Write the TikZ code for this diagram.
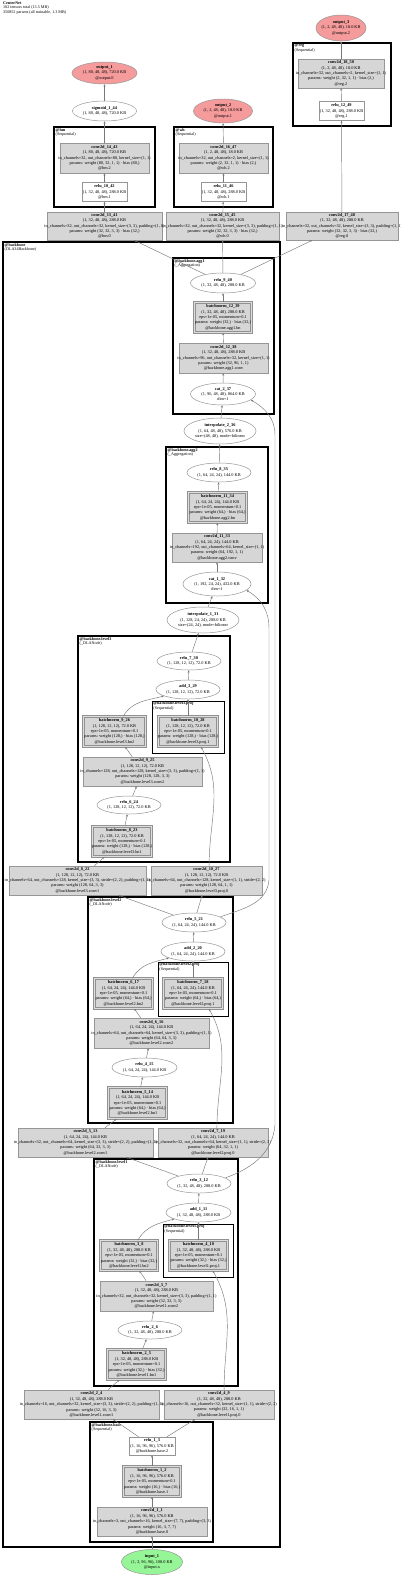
\documentclass[tikz,border=0pt]{standalone}
\usepackage{fontspec}
\setmainfont{Liberation Serif}
\usetikzlibrary{arrows.meta,shapes.geometric}

\definecolor{modfill}{RGB}{214,214,214}
\definecolor{modline}{RGB}{150,150,150}
\definecolor{bnline}{RGB}{145,145,145}
\definecolor{outfill}{RGB}{245,155,155}
\definecolor{infill}{RGB}{150,245,150}
\definecolor{edgegray}{RGB}{120,120,120}

\tikzset{
  txt/.style={font=\fontsize{4.3}{5.4}\selectfont,align=center,inner sep=0pt},
  glbl/.style={font=\fontsize{4.1}{4.7}\selectfont,align=left,inner sep=0pt,anchor=north west},
  modbox/.style={rectangle,fill=modfill,draw=modline,line width=0.5pt,inner sep=0pt},
  bnbox/.style={modbox,draw=bnline,double=modfill!80!white,double distance=0.9pt,line width=0.6pt},
  wbox/.style={rectangle,fill=white,draw=modline,line width=0.5pt,inner sep=0pt},
  fnode/.style={ellipse,fill=white,draw=modline,line width=0.5pt,inner sep=0pt},
  outnode/.style={fnode,fill=outfill},
  innode/.style={fnode,fill=infill},
  grp/.style={draw=black,line width=1.5pt},
  subgrp/.style={draw=black,line width=0.9pt},
  edge/.style={draw=edgegray,line width=0.45pt,-{Stealth[length=2.4pt,width=2.1pt]}},
}

\begin{document}
\begin{tikzpicture}[x=1pt,y=-1pt]
\useasboundingbox (0,0) rectangle (400,1577);

\node[glbl] (hdr) at (3,1.2) {\textbf{CenterNet}\\102 tensors total (13.5 MB)\\350852 params (all trainable, 1.3 MB)};

% clusters
\draw[grp] (293,43) rectangle (391,126);
\node[glbl] (lblreg) at (294.5,44) {\textbf{@reg}\\(Sequential)};
\draw[grp] (54,127) rectangle (155,207);
\node[glbl] (lblhm) at (55.5,128) {\textbf{@hm}\\(Sequential)};
\draw[grp] (174,127) rectangle (273,207);
\node[glbl] (lblwh) at (175.5,128) {\textbf{@wh}\\(Sequential)};
\draw[grp] (3,242) rectangle (280,1547);
\node[glbl] (lblbb) at (4.5,243) {\textbf{@backbone}\\(DLA34Backbone)};
\draw[grp] (173,258) rectangle (274,414);
\node[glbl] (lblagg1) at (174.5,259) {\textbf{@backbone.agg1}\\(\_Aggregation)};
\draw[grp] (166,447) rectangle (268,603);
\node[glbl] (lblagg2) at (167.5,448) {\textbf{@backbone.agg2}\\(\_Aggregation)};
\draw[grp] (78,636) rectangle (230,862);
\node[glbl] (lbllv3) at (79.5,637) {\textbf{@backbone.level3}\\(\_DLANode)};
\draw[subgrp] (152,701) rectangle (224,753);
\node[glbl] (lblpj3) at (153.2,701.8) {\textbf{@backbone.level3.proj}\\(Sequential)};
\draw[grp] (88,897) rectangle (233,1123);
\node[glbl] (lbllv2) at (89.5,898) {\textbf{@backbone.level2}\\(\_DLANode)};
\draw[subgrp] (158,962) rectangle (228,1016);
\node[glbl] (lblpj2) at (159.2,962.8) {\textbf{@backbone.level2.proj}\\(Sequential)};
\draw[grp] (94,1159) rectangle (238,1386);
\node[glbl] (lbllv1) at (95.5,1160) {\textbf{@backbone.level1}\\(\_DLANode)};
\draw[subgrp] (163,1224) rectangle (233,1277);
\node[glbl] (lblpj1) at (164.2,1224.8) {\textbf{@backbone.level1.proj}\\(Sequential)};
\draw[grp] (90,1422) rectangle (213,1542);
\node[glbl] (lblbase) at (91.5,1423) {\textbf{@backbone.base}\\(Sequential)};

% heads
\node[outnode,minimum width=65,minimum height=22,label={[txt]center:{\textbf{output\_1}\\(1, 80, 48, 48), 720.0 KB\\@output.0}}] (out1) at (104.5,73) {};
\node[fnode,minimum width=64,minimum height=20,label={[txt]center:{\textbf{sigmoid\_1\_44}\\(1, 80, 48, 48), 720.0 KB}}] (sigm1) at (104.5,111) {};
\node[outnode,minimum width=59,minimum height=24,label={[txt]center:{\textbf{output\_2}\\(1, 2, 48, 48), 18.0 KB\\@output.1}}] (out2) at (223,111) {};
\node[outnode,minimum width=50,minimum height=26,label={[txt]center:{\textbf{output\_3}\\(1, 2, 48, 48), 18.0 KB\\@output.2}}] (out3) at (341,28) {};
\node[modbox,minimum width=86,minimum height=29,label={[txt]center:{\textbf{conv2d\_18\_50}\\(1, 2, 48, 48), 18.0 KB\\in\_channels=32, out\_channels=2, kernel\_size=(1, 1)\\params: weight (2, 32, 1, 1) · bias (2,)\\@reg.2}}] (conv18) at (341,73.5) {};
\node[wbox,minimum width=45,minimum height=19,label={[txt]center:{\textbf{relu\_12\_49}\\(1, 32, 48, 48), 288.0 KB\\@reg.1}}] (relu12) at (341.5,111) {};
\node[modbox,minimum width=89,minimum height=30,label={[txt]center:{\textbf{conv2d\_14\_43}\\(1, 80, 48, 48), 720.0 KB\\in\_channels=32, out\_channels=80, kernel\_size=(1, 1)\\params: weight (80, 32, 1, 1) · bias (80,)\\@hm.2}}] (conv14) at (104.5,158) {};
\node[wbox,minimum width=45,minimum height=19,label={[txt]center:{\textbf{relu\_10\_42}\\(1, 32, 48, 48), 288.0 KB\\@hm.1}}] (relu10) at (104.5,192) {};
\node[modbox,minimum width=89,minimum height=30,label={[txt]center:{\textbf{conv2d\_16\_47}\\(1, 2, 48, 48), 18.0 KB\\in\_channels=32, out\_channels=2, kernel\_size=(1, 1)\\params: weight (2, 32, 1, 1) · bias (2,)\\@wh.2}}] (conv16) at (223.5,158) {};
\node[wbox,minimum width=45,minimum height=19,label={[txt]center:{\textbf{relu\_11\_46}\\(1, 32, 48, 48), 288.0 KB\\@wh.1}}] (relu11) at (223.5,192) {};
\node[modbox,minimum width=115,minimum height=28,label={[txt]center:{\textbf{conv2d\_13\_41}\\(1, 32, 48, 48), 288.0 KB\\in\_channels=32, out\_channels=32, kernel\_size=(3, 3), padding=(1, 1)\\params: weight (32, 32, 3, 3) · bias (32,)\\@hm.0}}] (conv13) at (104.5,226) {};
\node[modbox,minimum width=113,minimum height=28,label={[txt]center:{\textbf{conv2d\_15\_45}\\(1, 32, 48, 48), 288.0 KB\\in\_channels=32, out\_channels=32, kernel\_size=(3, 3), padding=(1, 1)\\params: weight (32, 32, 3, 3) · bias (32,)\\@wh.0}}] (conv15) at (222.5,226) {};
\node[modbox,minimum width=112,minimum height=28,label={[txt]center:{\textbf{conv2d\_17\_48}\\(1, 32, 48, 48), 288.0 KB\\in\_channels=32, out\_channels=32, kernel\_size=(3, 3), padding=(1, 1)\\params: weight (32, 32, 3, 3) · bias (32,)\\@reg.0}}] (conv17) at (342,226) {};

% aggregation
\node[fnode,minimum width=65,minimum height=20,label={[txt]center:{\textbf{relu\_9\_40}\\(1, 32, 48, 48), 288.0 KB}}] (relu9) at (223,283) {};
\node[bnbox,minimum width=57,minimum height=30,label={[txt]center:{\textbf{batchnorm\_12\_39}\\(1, 32, 48, 48), 288.0 KB\\eps=1e-05, momentum=0.1\\params: weight (32,) · bias (32,)\\@backbone.agg1.bn}}] (bn12) at (223,317.5) {};
\node[modbox,minimum width=89,minimum height=30,label={[txt]center:{\textbf{conv2d\_12\_38}\\(1, 32, 48, 48), 288.0 KB\\in\_channels=96, out\_channels=32, kernel\_size=(1, 1)\\params: weight (32, 96, 1, 1)\\@backbone.agg1.conv}}] (conv12) at (223.5,358) {};
\node[fnode,minimum width=65,minimum height=22,label={[txt]center:{\textbf{cat\_2\_37}\\(1, 96, 48, 48), 864.0 KB\\dim=1}}] (cat2) at (223,394) {};
\node[fnode,minimum width=72,minimum height=26,label={[txt]center:{\textbf{interpolate\_2\_36}\\(1, 64, 48, 48), 576.0 KB\\size=(48, 48), mode=bilinear}}] (interp2) at (220,431) {};
\node[fnode,minimum width=64,minimum height=19,label={[txt]center:{\textbf{relu\_8\_35}\\(1, 64, 24, 24), 144.0 KB}}] (relu8) at (219,472.5) {};
\node[bnbox,minimum width=58,minimum height=30,label={[txt]center:{\textbf{batchnorm\_11\_34}\\(1, 64, 24, 24), 144.0 KB\\eps=1e-05, momentum=0.1\\params: weight (64,) · bias (64,)\\@backbone.agg2.bn}}] (bn11) at (217.5,507.5) {};
\node[modbox,minimum width=90,minimum height=29,label={[txt]center:{\textbf{conv2d\_11\_33}\\(1, 64, 24, 24), 144.0 KB\\in\_channels=192, out\_channels=64, kernel\_size=(1, 1)\\params: weight (64, 192, 1, 1)\\@backbone.agg2.conv}}] (conv11) at (217,547.5) {};
\node[fnode,minimum width=68,minimum height=24,label={[txt]center:{\textbf{cat\_1\_32}\\(1, 192, 24, 24), 432.0 KB\\dim=1}}] (cat1) at (217,584) {};
\node[fnode,minimum width=72,minimum height=26,label={[txt]center:{\textbf{interpolate\_1\_31}\\(1, 128, 24, 24), 288.0 KB\\size=(24, 24), mode=bilinear}}] (interp1) at (203,620) {};

% level3
\node[fnode,minimum width=64,minimum height=18,label={[txt]center:{\textbf{relu\_7\_30}\\(1, 128, 12, 12), 72.0 KB}}] (relu7) at (189,661) {};
\node[fnode,minimum width=64,minimum height=19,label={[txt]center:{\textbf{add\_3\_29}\\(1, 128, 12, 12), 72.0 KB}}] (add3) at (188,689.5) {};
\node[bnbox,minimum width=59,minimum height=30,label={[txt]center:{\textbf{batchnorm\_10\_28}\\(1, 128, 12, 12), 72.0 KB\\eps=1e-05, momentum=0.1\\params: weight (128,) · bias (128,)\\@backbone.level3.proj.1}}] (bn10) at (188,731.5) {};
\node[bnbox,minimum width=62,minimum height=30,label={[txt]center:{\textbf{batchnorm\_9\_26}\\(1, 128, 12, 12), 72.0 KB\\eps=1e-05, momentum=0.1\\params: weight (128,) · bias (128,)\\@backbone.level3.bn2}}] (bn9) at (114.5,731.5) {};
\node[modbox,minimum width=119,minimum height=29,label={[txt]center:{\textbf{conv2d\_9\_25}\\(1, 128, 12, 12), 72.0 KB\\in\_channels=128, out\_channels=128, kernel\_size=(3, 3), padding=(1, 1)\\params: weight (128, 128, 3, 3)\\@backbone.level3.conv2}}] (conv9) at (142.5,771.5) {};
\node[fnode,minimum width=64,minimum height=18,label={[txt]center:{\textbf{relu\_6\_24}\\(1, 128, 12, 12), 72.0 KB}}] (relu6) at (129,805) {};
\node[bnbox,minimum width=59,minimum height=30,label={[txt]center:{\textbf{batchnorm\_8\_23}\\(1, 128, 12, 12), 72.0 KB\\eps=1e-05, momentum=0.1\\params: weight (128,) · bias (128,)\\@backbone.level3.bn1}}] (bn8) at (122,841.5) {};
\node[modbox,minimum width=137,minimum height=29,label={[txt]center:{\textbf{conv2d\_8\_22}\\(1, 128, 12, 12), 72.0 KB\\in\_channels=64, out\_channels=128, kernel\_size=(3, 3), stride=(2, 2), padding=(1, 1)\\params: weight (128, 64, 3, 3)\\@backbone.level3.conv1}}] (conv8) at (77.5,880.5) {};
\node[modbox,minimum width=111,minimum height=29,label={[txt]center:{\textbf{conv2d\_10\_27}\\(1, 128, 12, 12), 72.0 KB\\in\_channels=64, out\_channels=128, kernel\_size=(1, 1), stride=(2, 2)\\params: weight (128, 64, 1, 1)\\@backbone.level3.proj.0}}] (conv10) at (206.5,880.5) {};

% level2
\node[fnode,minimum width=64,minimum height=19,label={[txt]center:{\textbf{relu\_5\_21}\\(1, 64, 24, 24), 144.0 KB}}] (relu5) at (194,922.5) {};
\node[fnode,minimum width=64,minimum height=19,label={[txt]center:{\textbf{add\_2\_20}\\(1, 64, 24, 24), 144.0 KB}}] (add2) at (193,951.5) {};
\node[bnbox,minimum width=59,minimum height=30,label={[txt]center:{\textbf{batchnorm\_7\_18}\\(1, 64, 24, 24), 144.0 KB\\eps=1e-05, momentum=0.1\\params: weight (64,) · bias (64,)\\@backbone.level2.proj.1}}] (bn7) at (193,993.5) {};
\node[bnbox,minimum width=58,minimum height=30,label={[txt]center:{\textbf{batchnorm\_6\_17}\\(1, 64, 24, 24), 144.0 KB\\eps=1e-05, momentum=0.1\\params: weight (64,) · bias (64,)\\@backbone.level2.bn2}}] (bn6) at (123.5,993.5) {};
\node[modbox,minimum width=115,minimum height=30,label={[txt]center:{\textbf{conv2d\_6\_16}\\(1, 64, 24, 24), 144.0 KB\\in\_channels=64, out\_channels=64, kernel\_size=(3, 3), padding=(1, 1)\\params: weight (64, 64, 3, 3)\\@backbone.level2.conv2}}] (conv6) at (151.5,1033) {};
\node[fnode,minimum width=65,minimum height=19,label={[txt]center:{\textbf{relu\_4\_15}\\(1, 64, 24, 24), 144.0 KB}}] (relu4) at (144.5,1067.5) {};
\node[bnbox,minimum width=58,minimum height=31,label={[txt]center:{\textbf{batchnorm\_5\_14}\\(1, 64, 24, 24), 144.0 KB\\eps=1e-05, momentum=0.1\\params: weight (64,) · bias (64,)\\@backbone.level2.bn1}}] (bn5) at (137.5,1103) {};
\node[modbox,minimum width=135,minimum height=29,label={[txt]center:{\textbf{conv2d\_5\_13}\\(1, 64, 24, 24), 144.0 KB\\in\_channels=32, out\_channels=64, kernel\_size=(3, 3), stride=(2, 2), padding=(1, 1)\\params: weight (64, 32, 3, 3)\\@backbone.level2.conv1}}] (conv5) at (85.5,1142.5) {};
\node[modbox,minimum width=110,minimum height=29,label={[txt]center:{\textbf{conv2d\_7\_19}\\(1, 64, 24, 24), 144.0 KB\\in\_channels=32, out\_channels=64, kernel\_size=(1, 1), stride=(2, 2)\\params: weight (64, 32, 1, 1)\\@backbone.level2.proj.0}}] (conv7) at (213,1142.5) {};

% level1
\node[fnode,minimum width=64,minimum height=19,label={[txt]center:{\textbf{relu\_3\_12}\\(1, 32, 48, 48), 288.0 KB}}] (relu3) at (199,1183.5) {};
\node[fnode,minimum width=65,minimum height=19,label={[txt]center:{\textbf{add\_1\_11}\\(1, 32, 48, 48), 288.0 KB}}] (add1) at (198.5,1212.5) {};
\node[bnbox,minimum width=58,minimum height=30,label={[txt]center:{\textbf{batchnorm\_4\_10}\\(1, 32, 48, 48), 288.0 KB\\eps=1e-05, momentum=0.1\\params: weight (32,) · bias (32,)\\@backbone.level1.proj.1}}] (bn4) at (198.5,1255.5) {};
\node[bnbox,minimum width=57,minimum height=30,label={[txt]center:{\textbf{batchnorm\_3\_8}\\(1, 32, 48, 48), 288.0 KB\\eps=1e-05, momentum=0.1\\params: weight (32,) · bias (32,)\\@backbone.level1.bn2}}] (bn3) at (129,1255.5) {};
\node[modbox,minimum width=113,minimum height=30,label={[txt]center:{\textbf{conv2d\_3\_7}\\(1, 32, 48, 48), 288.0 KB\\in\_channels=32, out\_channels=32, kernel\_size=(3, 3), padding=(1, 1)\\params: weight (32, 32, 3, 3)\\@backbone.level1.conv2}}] (conv3) at (156.5,1296) {};
\node[fnode,minimum width=64,minimum height=18,label={[txt]center:{\textbf{relu\_2\_6}\\(1, 32, 48, 48), 288.0 KB}}] (relu2) at (150,1330) {};
\node[bnbox,minimum width=58,minimum height=30,label={[txt]center:{\textbf{batchnorm\_2\_5}\\(1, 32, 48, 48), 288.0 KB\\eps=1e-05, momentum=0.1\\params: weight (32,) · bias (32,)\\@backbone.level1.bn1}}] (bn2) at (136.5,1364.5) {};
\node[modbox,minimum width=135,minimum height=29,label={[txt]center:{\textbf{conv2d\_2\_4}\\(1, 32, 48, 48), 288.0 KB\\in\_channels=16, out\_channels=32, kernel\_size=(3, 3), stride=(2, 2), padding=(1, 1)\\params: weight (32, 16, 3, 3)\\@backbone.level1.conv1}}] (conv2) at (91.5,1404.5) {};
\node[modbox,minimum width=110,minimum height=29,label={[txt]center:{\textbf{conv2d\_4\_9}\\(1, 32, 48, 48), 288.0 KB\\in\_channels=16, out\_channels=32, kernel\_size=(1, 1), stride=(2, 2)\\params: weight (32, 16, 1, 1)\\@backbone.level1.proj.0}}] (conv4) at (219,1404.5) {};

% base
\node[wbox,minimum width=46,minimum height=18,label={[txt]center:{\textbf{relu\_1\_3}\\(1, 16, 96, 96), 576.0 KB\\@backbone.base.2}}] (relu1) at (152,1446) {};
\node[bnbox,minimum width=57,minimum height=30,label={[txt]center:{\textbf{batchnorm\_1\_2}\\(1, 16, 96, 96), 576.0 KB\\eps=1e-05, momentum=0.1\\params: weight (16,) · bias (16,)\\@backbone.base.1}}] (bn1) at (152,1481.5) {};
\node[modbox,minimum width=110,minimum height=29,label={[txt]center:{\textbf{conv2d\_1\_1}\\(1, 16, 96, 96), 576.0 KB\\in\_channels=3, out\_channels=16, kernel\_size=(7, 7), padding=(3, 3)\\params: weight (16, 3, 7, 7)\\@backbone.base.0}}] (conv1) at (152,1521.5) {};
\node[innode,minimum width=61,minimum height=25,label={[txt]center:{\textbf{input\_1}\\(1, 3, 96, 96), 108.0 KB\\@input.x}}] (inp) at (152,1562) {};

% edges
\draw[edge] (inp) -- (conv1);
\draw[edge] (conv1) -- (bn1);
\draw[edge] (bn1) -- (relu1);
\draw[edge] (relu1) -- (conv2);
\draw[edge] (relu1) -- (conv4);
\draw[edge] (conv2) -- (bn2);
\draw[edge] (bn2) -- (relu2);
\draw[edge] (relu2) -- (conv3);
\draw[edge] (conv3) -- (bn3);
\draw[edge] (conv4.71) to[out=90,in=-60] (bn4.-47);
\draw[edge] (bn3) to[out=60,in=195] (add1);
\draw[edge] (bn4) -- (add1);
\draw[edge] (add1) -- (relu3);
\draw[edge] (relu3) -- (conv5);
\draw[edge] (relu3) -- (conv7);
\draw[edge] (relu3.12) to[out=20,in=-95] (275,1125) -- (275,435) to[out=90,in=-30] (cat2.-12);
\draw[edge] (conv5) -- (bn5);
\draw[edge] (bn5) -- (relu4);
\draw[edge] (relu4) -- (conv6);
\draw[edge] (conv6) -- (bn6);
\draw[edge] (conv7.75) to[out=90,in=-60] (bn7.-44);
\draw[edge] (bn6) to[out=60,in=195] (add2);
\draw[edge] (bn7) -- (add2);
\draw[edge] (add2) -- (relu5);
\draw[edge] (relu5) -- (conv8);
\draw[edge] (relu5) -- (conv10);
\draw[edge] (relu5.12) to[out=20,in=-95] (269,880) -- (269,628) to[out=90,in=-30] (cat1.-12);
\draw[edge] (conv8) -- (bn8);
\draw[edge] (bn8) -- (relu6);
\draw[edge] (relu6) -- (conv9);
\draw[edge] (conv9) -- (bn9);
\draw[edge] (conv10.80) to[out=90,in=-60] (bn10.-50);
\draw[edge] (bn9) to[out=60,in=195] (add3);
\draw[edge] (bn10) -- (add3);
\draw[edge] (add3) -- (relu7);
\draw[edge] (relu7) -- (interp1);
\draw[edge] (interp1) -- (cat1);
\draw[edge] (cat1) -- (conv11);
\draw[edge] (conv11) -- (bn11);
\draw[edge] (bn11) -- (relu8);
\draw[edge] (relu8) -- (interp2);
\draw[edge] (interp2) -- (cat2);
\draw[edge] (cat2) -- (conv12);
\draw[edge] (conv12) -- (bn12);
\draw[edge] (bn12) -- (relu9);
\draw[edge] (relu9) -- (conv13);
\draw[edge] (relu9) -- (conv15);
\draw[edge] (relu9) -- (conv17);
\draw[edge] (conv13) -- (relu10);
\draw[edge] (relu10) -- (conv14);
\draw[edge] (conv14) -- (sigm1);
\draw[edge] (sigm1) -- (out1);
\draw[edge] (conv15) -- (relu11);
\draw[edge] (relu11) -- (conv16);
\draw[edge] (conv16) -- (out2);
\draw[edge] (conv17) -- (relu12);
\draw[edge] (relu12) -- (conv18);
\draw[edge] (conv18) -- (out3);
\end{tikzpicture}
\end{document}
